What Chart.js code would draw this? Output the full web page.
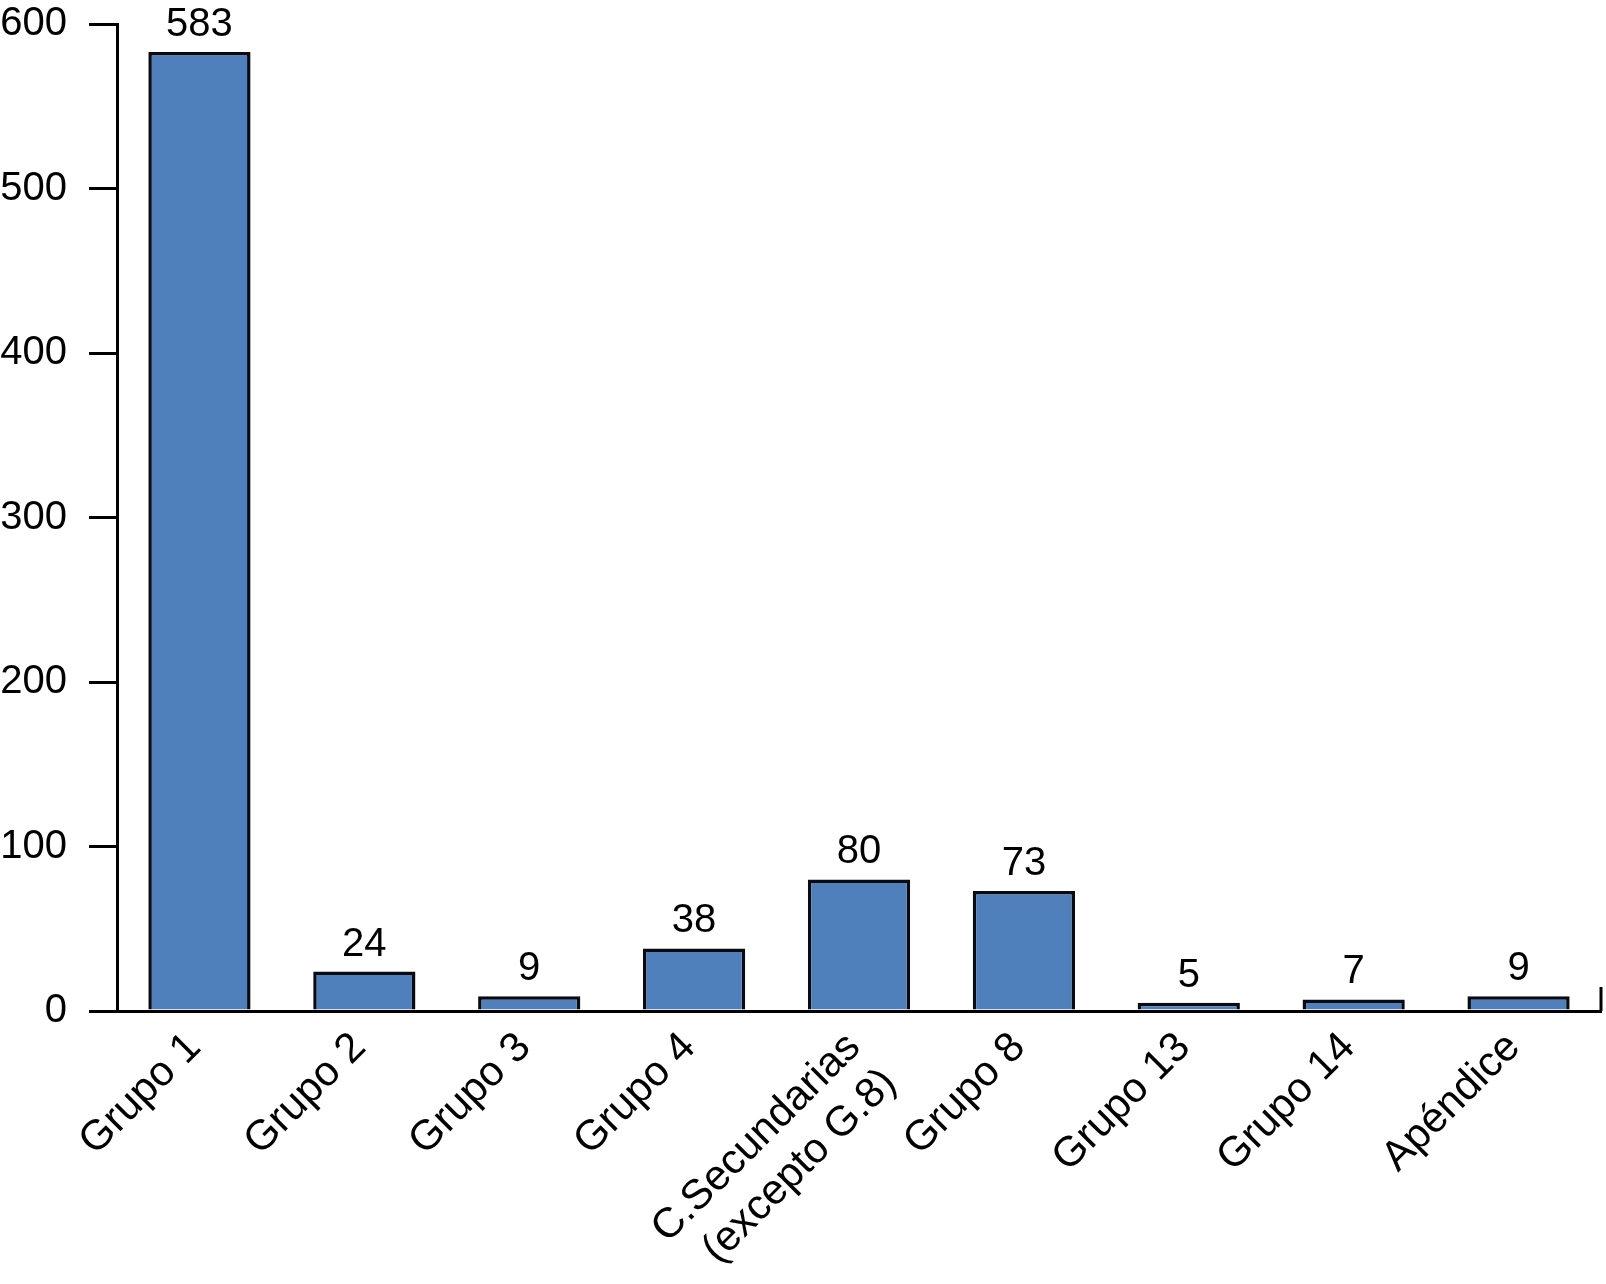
<!DOCTYPE html>
<html>
<head>
<meta charset="utf-8">
<script src="https://cdn.jsdelivr.net/npm/chart.js@4/dist/chart.umd.min.js"></script>
<style>
  html, body { margin: 0; padding: 0; background: #fff; }
  #wrap { width: 1606px; height: 1284px; }
</style>
</head>
<body>
<div id="wrap"><canvas id="chart"></canvas></div>
<script>
// datos del gráfico
const categories = ['Grupo 1', 'Grupo 2', 'Grupo 3', 'Grupo 4',
    ['C.Secundarias', '(excepto G.8)'], 'Grupo 8', 'Grupo 13', 'Grupo 14', 'Apéndice'];
const values = [583, 24, 9, 38, 80, 73, 5, 7, 9];
const yTicks = [0, 100, 200, 300, 400, 500, 600];

const FONT = '"Liberation Sans", Arial, Helvetica, sans-serif';

// etiquetas de valor encima de las barras
const valueLabels = {
    id: 'valueLabels',
    afterDatasetsDraw(chart) {
        const ctx = chart.ctx;
        const meta = chart.getDatasetMeta(0);
        ctx.save();
        ctx.font = '40px ' + FONT;
        ctx.fillStyle = '#000';
        ctx.textAlign = 'center';
        ctx.textBaseline = 'alphabetic';
        meta.data.forEach((bar, i) => {
            const p = bar.getProps(['x', 'y'], true);
            ctx.fillText(values[i], p.x, p.y - 16);
        });
        ctx.restore();
    }
};

// marca vertical al final del eje x
const endTick = {
    id: 'endTick',
    afterDraw(chart) {
        const ctx = chart.ctx;
        const a = chart.chartArea;
        ctx.save();
        ctx.strokeStyle = '#000';
        ctx.lineWidth = 3;
        ctx.beginPath();
        ctx.moveTo(a.right, a.bottom);
        ctx.lineTo(a.right, a.bottom - 24);
        ctx.stroke();
        ctx.restore();
    }
};

new Chart(document.getElementById('chart'), {
    type: 'bar',
    data: {
        labels: categories,
        datasets: [{
            data: values,
            backgroundColor: '#4f80bc',
            borderColor: '#0a0a12',
            borderWidth: 3.5,
            borderSkipped: 'bottom',
            barPercentage: 0.62,
            categoryPercentage: 1
        }]
    },
    options: {
        responsive: true,
        maintainAspectRatio: false,
        animation: false,
        layout: { padding: { top: 24, right: 5, left: 0, bottom: 0 } },
        plugins: {
            legend: { display: false },
            tooltip: { enabled: false }
        },
        scales: {
            x: {
                grid: { display: false },
                border: { display: true, color: '#000', width: 3 },
                ticks: {
                    color: '#000',
                    font: { family: FONT, size: 42 },
                    minRotation: 45,
                    maxRotation: 45,
                    padding: 4,
                    labelOffset: -5,
                    autoSkip: false
                },
                afterFit(scale) {
                    scale.height = 273;
                    scale.paddingLeft = 0;
                    scale.paddingRight = 0;
                }
            },
            y: {
                min: 0,
                max: 600,
                afterBuildTicks(scale) {
                    scale.ticks = yTicks.map(v => ({ value: v }));
                },
                grid: {
                    drawOnChartArea: false,
                    drawTicks: true,
                    tickLength: 28,
                    color: '#000',
                    lineWidth: 3
                },
                border: { display: true, color: '#000', width: 3 },
                ticks: {
                    color: '#000',
                    font: { family: FONT, size: 40 },
                    padding: 22
                },
                afterFit(scale) {
                    scale.width = 117;
                    scale.paddingTop = 0;
                    scale.paddingBottom = 0;
                }
            }
        }
    },
    plugins: [valueLabels, endTick]
});
</script>
</body>
</html>
